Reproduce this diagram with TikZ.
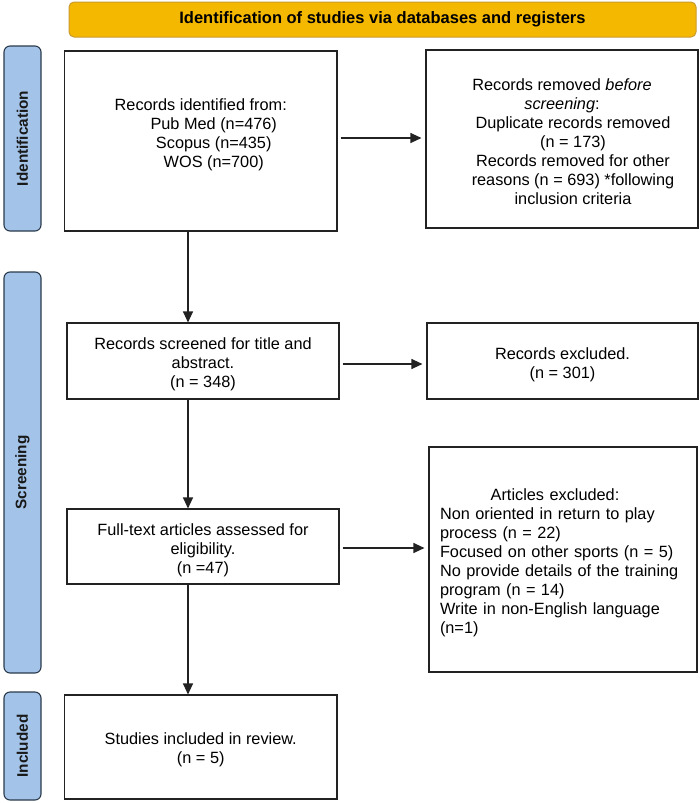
\documentclass[tikz,border=0pt]{standalone}
\usepackage{fontspec}
\setmainfont{Liberation Sans}
\usetikzlibrary{arrows.meta}
\definecolor{bannerfill}{HTML}{F5B800}
\definecolor{bannerline}{HTML}{C99A2E}
\definecolor{labfill}{HTML}{A3C3E8}
\definecolor{labline}{HTML}{2B3A4C}
\definecolor{boxline}{HTML}{222222}
\begin{document}
\begin{tikzpicture}[x=1pt,y=-1pt,
  txt/.style={font=\fontsize{16.3}{19}\selectfont},
  box/.style={draw=boxline, line width=1.1pt, inner sep=0pt},
  boxtext/.style={txt, align=center, inner sep=0pt, yshift=#1},
  banner/.style={draw=bannerline, fill=bannerfill, line width=1pt, rounded corners=5pt,
    font=\fontsize{16.5}{18}\selectfont\bfseries},
  phase/.style={draw=labline, fill=labfill, line width=1.1pt, rounded corners=6pt,
    rotate=90, minimum height=37pt, font=\fontsize{15.3}{18}\selectfont\bfseries, text=black!90},
  arr/.style={draw=boxline, line width=1.1pt, -{Triangle[length=11pt,width=10pt]}},
  harr/.style={arr, shorten <=3pt, shorten >=4pt}
]
\useasboundingbox (0,0) rectangle (700,803);

% banner
\node[banner, minimum width=627pt, minimum height=35pt] (ban) at (382.5,19.5)
  {Identification of studies via databases and registers};

% phase labels
\node[phase, minimum width=185pt] (pid) at (22.5,138.5) {Identification};
\node[phase, minimum width=401pt] (psc) at (22.5,472.5) {Screening};
\node[phase, minimum width=108pt] (pin) at (22.5,746) {Included};

% boxes
\node[box, minimum width=272.5pt, minimum height=180pt,
  label={[boxtext=-4.5pt]center:{Records identified from:\\
   \hspace*{26pt}Pub Med (n=476)\\
   \hspace*{26pt}Scopus (n=435)\\
   \hspace*{26pt}WOS (n=700)\\
   \strut}}] (b1) at (200.75,141) {};
\node[box, minimum width=272pt, minimum height=178pt,
  label={[boxtext=-2.5pt]center:{Records removed \textit{before}\\
   \textit{screening}:\\
   \hspace*{22pt}Duplicate records removed\\
   \hspace*{22pt}(n = 173)\\
   \hspace*{22pt}Records removed for other\\
   \hspace*{22pt}reasons (n = 693) *following\\
   \hspace*{22pt}inclusion criteria}}] (b2) at (562,139) {};
\node[box, minimum width=272pt, minimum height=76pt,
  label={[boxtext=-3pt]center:{Records screened for title and\\ abstract.\\ (n = 348)}}]
  (b3) at (203,361) {};
\node[box, minimum width=271pt, minimum height=76pt,
  label={[boxtext=-4pt]center:{Records excluded.\\ (n = 301)}}]
  (b4) at (562.5,361) {};
\node[box, minimum width=272pt, minimum height=75pt,
  label={[boxtext=-3.5pt]center:{Full-text articles assessed for\\ eligibility.\\ (n =47)}}]
  (b5) at (203,546.5) {};
\node[box, minimum width=268pt, minimum height=225pt,
  label={[boxtext=-3.5pt, text width=246pt, align=left]center:{\makebox[230pt]{Articles excluded:}\\
   Non oriented in return to play\\
   process (n = 22)\\
   Focused on other sports (n = 5)\\
   No provide details of the training\\
   program (n = 14)\\
   Write in non-English language\\
   (n=1)}}] (b6) at (563,559.5) {};
\node[box, minimum width=272.5pt, minimum height=104pt,
  label={[boxtext=-3pt]center:{Studies included in review.\\ (n = 5)}}]
  (b7) at (200.75,747) {};

% vertical flow
\coordinate (ax) at (188,0);
\draw[arr] (b1.south -| ax) -- (b3.north -| ax);
\draw[arr] (b3.south -| ax) -- (b5.north -| ax);
\draw[arr] (b5.south -| ax) -- (b7.north -| ax);

% horizontal arrows
\draw[harr] ([yshift=3pt]b1.east) -- ([yshift=3pt]b1.east -| b2.west);
\draw[harr] ([yshift=-3pt]b3.east) -- ([yshift=-3pt]b3.east -| b4.west);
\draw[harr] ([yshift=-1.5pt]b5.east) -- ([yshift=-1.5pt]b5.east -| b6.west);
\end{tikzpicture}
\end{document}
